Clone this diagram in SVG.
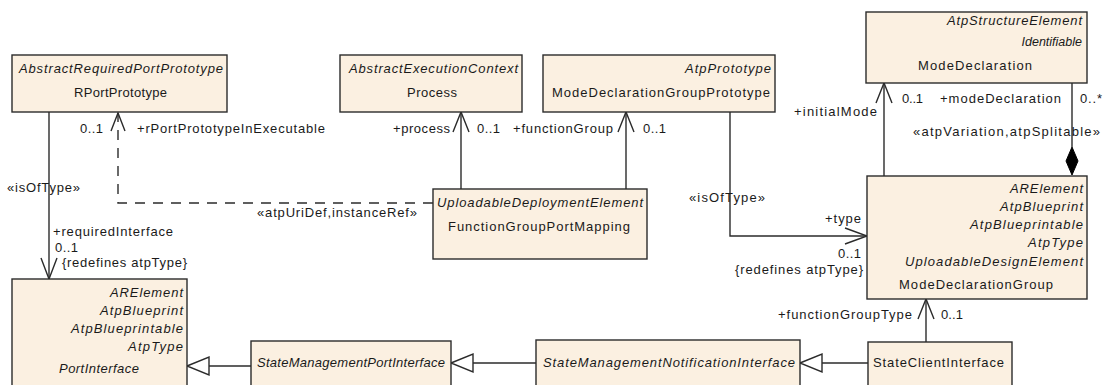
<svg xmlns="http://www.w3.org/2000/svg" width="1107" height="385" viewBox="0 0 1107 385">
<style>
.box{fill:#FBF0E1;stroke:#2b2b2b;stroke-width:1.4}
text{font-family:"Liberation Sans",Arial,sans-serif;font-size:13px;fill:#1a1a1a}
.i{font-style:italic}
.ln{fill:none;stroke:#2b2b2b;stroke-width:1.4}
.dash{stroke-dasharray:10 8}
.head{fill:none;stroke:#2b2b2b;stroke-width:1.4}
.tri{fill:#ffffff;stroke:#2b2b2b;stroke-width:1.4}
.dia{fill:#000000;stroke:#000000;stroke-width:1}
</style>
<rect width="1107" height="385" fill="#ffffff"/>
<g id="connectors">
  <line class="ln" x1="49" y1="112" x2="49" y2="279"/>
  <polyline class="head" points="41,258 49,279 57,258"/>
  <polyline class="ln dash" points="433,203 118,203 118,113"/>
  <polyline class="head" points="111,131 118,113 125,131"/>
  <line class="ln" x1="461" y1="189" x2="461" y2="112"/>
  <polyline class="head" points="453,132 461,112 469,132"/>
  <line class="ln" x1="626" y1="189" x2="626" y2="112"/>
  <polyline class="head" points="618,132 626,112 634,132"/>
  <polyline class="ln" points="730,112 730,236 867,236"/>
  <polyline class="head" points="845,228 867,236 845,244"/>
  <line class="ln" x1="884" y1="176" x2="884" y2="83"/>
  <polyline class="head" points="876,103 884,83 892,103"/>
  <line class="ln" x1="1072" y1="83" x2="1072" y2="147"/>
  <polygon class="dia" points="1072,147 1078,161 1072,175 1066,161"/>
  <line class="ln" x1="926" y1="342" x2="926" y2="299"/>
  <polyline class="head" points="918,319 926,299 934,319"/>
  <line class="ln" x1="868" y1="363" x2="822" y2="363"/>
  <polygon class="tri" points="800,363 822,354 822,372"/>
  <line class="ln" x1="536" y1="363" x2="473" y2="363"/>
  <polygon class="tri" points="451,363 473,354 473,372"/>
  <line class="ln" x1="251" y1="366" x2="209" y2="366"/>
  <polygon class="tri" points="187,366 209,357 209,375"/>
</g>
<g id="labels">
  <text x="80" y="133" textLength="23">0..1</text>
  <text x="137" y="133" textLength="188">+rPortPrototypeInExecutable</text>
  <text x="7" y="192" textLength="73">«isOfType»</text>
  <text x="53" y="236" textLength="120">+requiredInterface</text>
  <text x="55" y="252" textLength="23">0..1</text>
  <text x="62" y="267" textLength="125">{redefines atpType}</text>
  <text x="257" y="217" textLength="160">«atpUriDef,instanceRef»</text>
  <text x="393" y="133" textLength="57">+process</text>
  <text x="477" y="133" textLength="23">0..1</text>
  <text x="513" y="133" textLength="100">+functionGroup</text>
  <text x="643" y="133" textLength="23">0..1</text>
  <text x="794" y="116" textLength="83">+initialMode</text>
  <text x="902" y="103" textLength="21">0..1</text>
  <text x="940" y="103" textLength="121">+modeDeclaration</text>
  <text x="1080" y="103" textLength="22">0..*</text>
  <text x="913" y="136" textLength="187">«atpVariation,atpSplitable»</text>
  <text x="689" y="202" textLength="76">«isOfType»</text>
  <text x="825" y="223" textLength="36">+type</text>
  <text x="838" y="258" textLength="23">0..1</text>
  <text x="735" y="274" textLength="128">{redefines atpType}</text>
  <text x="778" y="319" textLength="134">+functionGroupType</text>
  <text x="941" y="319" textLength="22">0..1</text>
</g>
<g id="RPortPrototype">
  <rect class="box" x="12" y="55" width="215" height="57"/>
  <text class="i" x="19" y="73" textLength="204">AbstractRequiredPortPrototype</text>
  <text x="74" y="97" textLength="93">RPortPrototype</text>
</g>
<g id="Process">
  <rect class="box" x="340" y="55" width="182" height="57"/>
  <text class="i" x="349" y="73" textLength="169">AbstractExecutionContext</text>
  <text x="407" y="97" textLength="50">Process</text>
</g>
<g id="ModeDeclarationGroupPrototype">
  <rect class="box" x="543" y="55" width="232" height="57"/>
  <text class="i" x="685" y="73" textLength="86">AtpPrototype</text>
  <text x="552" y="97" textLength="218">ModeDeclarationGroupPrototype</text>
</g>
<g id="ModeDeclaration">
  <rect class="box" x="866" y="12" width="221" height="71"/>
  <text class="i" x="947" y="25" textLength="135">AtpStructureElement</text>
  <text class="i" x="1082" y="46" text-anchor="end" style="font-size:12.5px">Identifiable</text>
  <text x="918" y="70" textLength="114">ModeDeclaration</text>
</g>
<g id="FunctionGroupPortMapping">
  <rect class="box" x="433" y="189" width="214" height="70"/>
  <text class="i" x="437" y="207" textLength="206">UploadableDeploymentElement</text>
  <text x="448" y="231" textLength="182">FunctionGroupPortMapping</text>
</g>
<g id="ModeDeclarationGroup">
  <rect class="box" x="867" y="176" width="220" height="123"/>
  <text class="i" x="1010" y="193" textLength="73">ARElement</text>
  <text class="i" x="1000" y="211" textLength="83">AtpBlueprint</text>
  <text class="i" x="970" y="229" textLength="113">AtpBlueprintable</text>
  <text class="i" x="1028" y="247" textLength="55">AtpType</text>
  <text class="i" x="905" y="266" textLength="178">UploadableDesignElement</text>
  <text x="899" y="289" textLength="154">ModeDeclarationGroup</text>
</g>
<g id="PortInterface">
  <rect class="box" x="12" y="279" width="175" height="120"/>
  <text class="i" x="110" y="297" textLength="73">ARElement</text>
  <text class="i" x="100" y="315" textLength="83">AtpBlueprint</text>
  <text class="i" x="71" y="333" textLength="112">AtpBlueprintable</text>
  <text class="i" x="128" y="351" textLength="55">AtpType</text>
  <text class="i" x="59" y="373" textLength="80">PortInterface</text>
</g>
<g id="StateManagementPortInterface">
  <rect class="box" x="251" y="341" width="200" height="60"/>
  <text class="i" x="257" y="367" textLength="188">StateManagementPortInterface</text>
</g>
<g id="StateManagementNotificationInterface">
  <rect class="box" x="536" y="340" width="264" height="60"/>
  <text class="i" x="543" y="367" textLength="252">StateManagementNotificationInterface</text>
</g>
<g id="StateClientInterface">
  <rect class="box" x="868" y="342" width="144" height="60"/>
  <text x="873" y="367" textLength="131">StateClientInterface</text>
</g>
</svg>
